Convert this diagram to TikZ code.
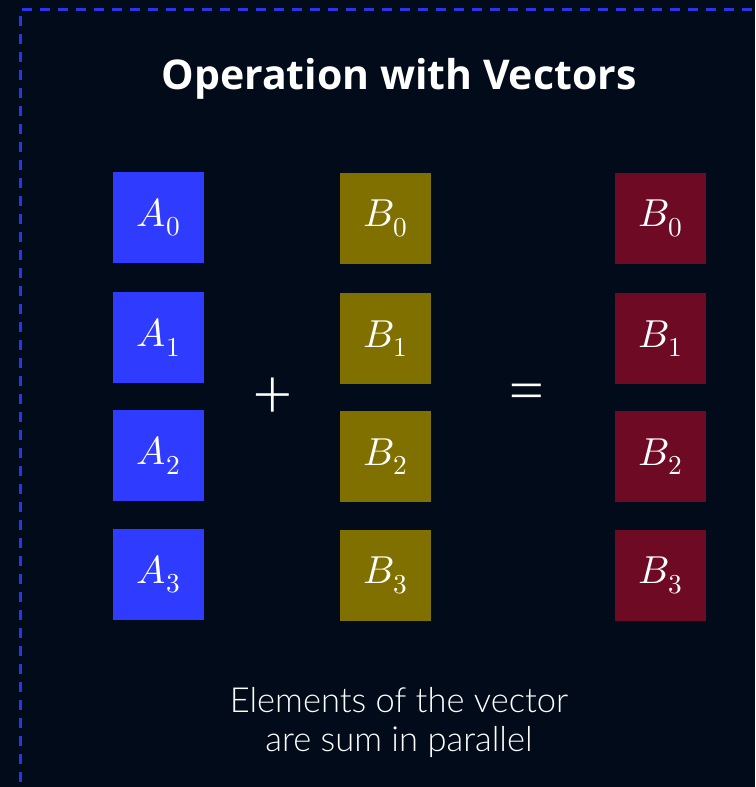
\documentclass[tikz,border=0pt]{standalone}
\usepackage{fontspec}
\usepackage{unicode-math}
\setmainfont{Lato}
\setmathfont{Latin Modern Math}
\newfontfamily\titlefont{Open Sans}
\newfontfamily\lightfont{Lato Light}
\definecolor{bgnavy}{HTML}{020B1A}
\definecolor{frameblue}{HTML}{2B35E8}
\definecolor{cellA}{HTML}{2F3BFF}
\definecolor{cellB}{HTML}{807000}
\definecolor{cellC}{HTML}{6E0A24}
\tikzset{
  cell/.style={minimum width=91pt, minimum height=91pt, inner sep=0pt,
    text=white, font=\fontsize{39}{42}\selectfont},
  acell/.style={cell, fill=cellA},
  bcell/.style={cell, fill=cellB},
  ccell/.style={cell, fill=cellC},
  opsign/.style={text=white, font=\lightfont\fontsize{70}{70}\selectfont, inner sep=0pt},
}
\begin{document}
\begin{tikzpicture}[x=1pt,y=-1pt]
  % canvas
  \fill[bgnavy] (0,0) rectangle (755,787);
  \useasboundingbox (0,0) rectangle (755,787);
  % dashed frame running off the right and bottom edges
  \draw[frameblue, line width=3pt, dash pattern=on 10pt off 8pt]
    (20,800) -- (20,9.5) -- (770,9.5);
  % title
  \node[text=white, font=\titlefont\bfseries\fontsize{41}{46}\selectfont] (title) at (399,79) {Operation with Vectors};
  % vector A
  \node[acell] (a0) at (158.5,217.5) {$A_0$};
  \node[acell] (a1) at (158.5,337.5) {$A_1$};
  \node[acell] (a2) at (158.5,455.5) {$A_2$};
  \node[acell] (a3) at (158.5,574.5) {$A_3$};
  % vector B
  \node[bcell] (b0) at (385.5,218.5) {$B_0$};
  \node[bcell] (b1) at (385.5,338.5) {$B_1$};
  \node[bcell] (b2) at (385.5,456.5) {$B_2$};
  \node[bcell] (b3) at (385.5,575.5) {$B_3$};
  % result
  \node[ccell] (c0) at (660.5,218.5) {$B_0$};
  \node[ccell] (c1) at (660.5,338.5) {$B_1$};
  \node[ccell] (c2) at (660.5,456.5) {$B_2$};
  \node[ccell] (c3) at (660.5,575.5) {$B_3$};
  % operators
  \node[opsign] (plus) at (273,398) {+};
  \node[opsign] (equals) at (527,399) {=};
  % caption
  \node[text=white, align=center, font=\lightfont\fontsize{34.5}{39}\selectfont] (caption) at (399,722)
    {Elements of the vector\\ are sum in parallel};
\end{tikzpicture}
\end{document}
